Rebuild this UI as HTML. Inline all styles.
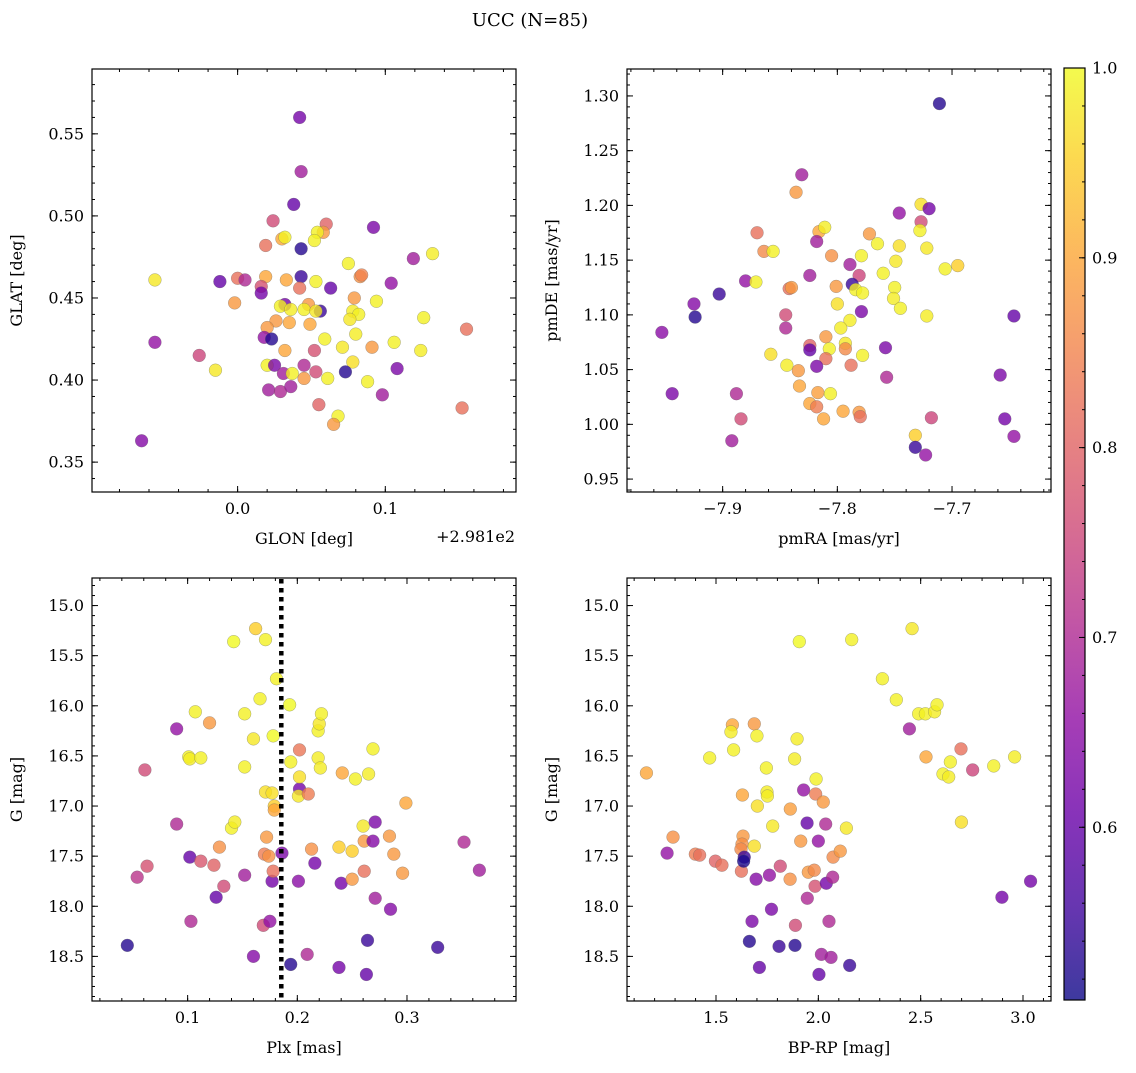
<!DOCTYPE html>
<html><head><meta charset="utf-8"><style>
body{margin:0;background:#fff}
svg text{font-family:"DejaVu Serif","Liberation Serif",serif;fill:#000}
</style></head><body>
<svg id="fig" width="1136" height="1068" viewBox="0 0 1136 1068" xmlns="http://www.w3.org/2000/svg">
<text x="530" y="26" font-size="18" text-anchor="middle">UCC (N=85)</text>
</svg>
<script>
// ---- Panel 1: GLON offset from 298.1 vs GLAT ----
const glon=[0.042,0.043,0.038,0.024,0.060,0.058,0.054,0.052,0.030,0.032,0.019,0.043,0.092,0.119,0.132,0.075,0.083,0.084,-0.056,-0.012,0.000,0.005,0.019,0.033,0.043,0.042,0.053,0.063,0.104,0.016,0.016,-0.002,0.079,0.094,0.032,0.029,0.036,0.048,0.045,0.056,0.053,0.078,0.082,0.076,0.126,0.155,0.026,0.020,0.035,0.049,0.080,0.059,0.018,0.023,-0.056,0.032,0.052,0.071,0.091,0.106,0.124,-0.026,-0.015,0.020,0.025,0.031,0.037,0.045,0.053,0.045,0.061,0.078,0.073,0.088,0.108,0.021,0.029,0.036,0.098,0.055,0.068,0.065,0.152,-0.065];
const glat=[0.560,0.527,0.507,0.497,0.495,0.490,0.490,0.485,0.486,0.487,0.482,0.480,0.493,0.474,0.477,0.471,0.463,0.464,0.461,0.460,0.462,0.461,0.463,0.461,0.463,0.456,0.460,0.456,0.459,0.457,0.453,0.447,0.450,0.448,0.446,0.445,0.443,0.446,0.443,0.442,0.442,0.442,0.440,0.437,0.438,0.431,0.436,0.432,0.435,0.434,0.428,0.425,0.426,0.425,0.423,0.418,0.418,0.420,0.420,0.423,0.418,0.415,0.406,0.409,0.409,0.404,0.404,0.409,0.405,0.401,0.401,0.411,0.405,0.399,0.407,0.394,0.393,0.396,0.391,0.385,0.378,0.373,0.383,0.363];
const prob1=[0.62,0.68,0.6,0.76,0.8,0.88,0.99,0.99,0.9,0.99,0.82,0.53,0.63,0.68,0.985,0.99,0.87,0.85,0.98,0.6,0.82,0.7,0.9,0.9,0.55,0.82,0.99,0.6,0.66,0.77,0.62,0.88,0.88,0.99,0.62,0.99,0.985,0.88,0.99,0.55,0.98,0.985,0.99,0.98,0.99,0.82,0.88,0.88,0.9,0.9,0.985,0.99,0.66,0.53,0.66,0.9,0.77,0.98,0.88,0.99,0.985,0.75,0.98,0.99,0.63,0.68,0.99,0.7,0.76,0.88,0.99,0.97,0.53,0.99,0.63,0.68,0.7,0.68,0.68,0.8,0.99,0.88,0.82,0.64];
// ---- Panel 2: pmRA vs pmDE ----
const pmra=[-7.711,-7.831,-7.836,-7.727,-7.720,-7.746,-7.727,-7.728,-7.870,-7.816,-7.811,-7.818,-7.772,-7.765,-7.746,-7.722,-7.864,-7.856,-7.805,-7.779,-7.749,-7.789,-7.706,-7.695,-7.760,-7.781,-7.824,-7.880,-7.871,-7.903,-7.925,-7.924,-7.953,-7.944,-7.787,-7.784,-7.778,-7.801,-7.842,-7.840,-7.750,-7.751,-7.745,-7.800,-7.779,-7.722,-7.646,-7.845,-7.845,-7.789,-7.797,-7.810,-7.793,-7.793,-7.824,-7.824,-7.807,-7.758,-7.778,-7.858,-7.810,-7.844,-7.818,-7.788,-7.834,-7.757,-7.658,-7.833,-7.888,-7.817,-7.806,-7.824,-7.818,-7.795,-7.781,-7.780,-7.812,-7.884,-7.718,-7.654,-7.732,-7.732,-7.723,-7.892,-7.646];
const pmde=[1.293,1.228,1.212,1.201,1.197,1.193,1.185,1.177,1.175,1.176,1.180,1.167,1.174,1.165,1.163,1.161,1.158,1.158,1.154,1.154,1.149,1.146,1.142,1.145,1.138,1.136,1.136,1.131,1.130,1.119,1.110,1.098,1.084,1.028,1.128,1.123,1.120,1.126,1.124,1.125,1.125,1.115,1.106,1.110,1.103,1.099,1.099,1.100,1.088,1.095,1.088,1.080,1.074,1.069,1.072,1.068,1.069,1.070,1.063,1.064,1.060,1.054,1.053,1.054,1.049,1.043,1.045,1.035,1.028,1.029,1.028,1.019,1.016,1.012,1.011,1.007,1.005,1.005,1.006,1.005,0.990,0.979,0.972,0.985,0.989];
const prob2=[0.53,0.68,0.88,0.97,0.62,0.66,0.76,0.99,0.82,0.9,0.985,0.68,0.88,0.99,0.97,0.98,0.86,0.99,0.87,0.99,0.98,0.68,0.99,0.95,0.99,0.75,0.68,0.66,0.99,0.55,0.64,0.53,0.65,0.63,0.55,0.99,0.99,0.88,0.82,0.88,0.99,0.985,0.99,0.97,0.63,0.985,0.6,0.76,0.7,0.985,0.985,0.88,0.98,0.86,0.8,0.6,0.99,0.63,0.99,0.97,0.82,0.985,0.63,0.82,0.88,0.7,0.63,0.9,0.7,0.89,0.99,0.9,0.84,0.9,0.88,0.82,0.9,0.76,0.75,0.62,0.95,0.55,0.66,0.68,0.66];
// ---- Panel 3: Plx vs G ----
const plx=[0.045,0.054,0.063,0.061,0.090,0.090,0.102,0.103,0.101,0.102,0.112,0.107,0.112,0.120,0.124,0.126,0.129,0.133,0.140,0.143,0.142,0.152,0.152,0.152,0.160,0.160,0.162,0.166,0.171,0.169,0.175,0.171,0.172,0.170,0.174,0.177,0.177,0.178,0.179,0.179,0.178,0.181,0.186,0.193,0.194,0.194,0.201,0.202,0.202,0.202,0.201,0.210,0.209,0.213,0.216,0.219,0.221,0.219,0.220,0.222,0.238,0.238,0.240,0.241,0.250,0.250,0.253,0.260,0.261,0.261,0.264,0.263,0.265,0.269,0.269,0.271,0.271,0.284,0.285,0.288,0.296,0.299,0.328,0.352,0.366];
const g3=[18.39,17.71,17.60,16.64,17.18,16.23,17.51,18.15,16.51,16.53,16.52,16.06,17.55,16.17,17.59,17.91,17.41,17.80,17.22,17.16,15.36,17.69,16.61,16.08,18.50,16.33,15.23,15.93,15.34,18.19,18.15,16.86,17.31,17.48,17.50,17.75,16.87,16.30,17.00,17.04,17.65,15.73,17.47,15.99,16.56,18.58,17.75,16.44,16.83,16.71,16.90,16.88,18.48,17.43,17.57,16.52,16.62,16.25,16.18,16.08,18.61,17.41,17.77,16.67,17.45,17.73,16.73,17.20,17.65,17.35,18.34,18.68,16.68,17.35,16.43,17.16,17.92,17.30,18.03,17.48,17.67,16.97,18.41,17.36,17.64];
const prob3=[0.53,0.72,0.77,0.76,0.7,0.66,0.6,0.7,0.99,0.985,0.99,0.99,0.78,0.88,0.8,0.6,0.87,0.76,0.99,0.985,1.0,0.68,0.99,0.99,0.64,0.98,0.95,0.99,0.99,0.76,0.66,0.97,0.88,0.84,0.87,0.62,0.97,1.0,0.95,0.9,0.82,0.99,0.63,1.0,0.99,0.53,0.65,0.83,0.62,0.97,0.98,0.84,0.7,0.87,0.62,0.985,0.985,0.99,0.98,0.99,0.62,0.95,0.62,0.9,0.95,0.88,0.99,0.98,0.82,0.88,0.55,0.6,0.985,0.64,0.99,0.63,0.68,0.88,0.64,0.88,0.88,0.9,0.55,0.7,0.68];
// ---- Panel 4: BP-RP vs G ----
const bprp=[1.160,1.290,1.261,1.399,1.420,1.469,1.497,1.529,1.580,1.573,1.586,1.624,1.629,1.632,1.627,1.622,1.638,1.635,1.663,1.676,1.687,1.700,1.687,1.712,1.696,1.702,1.746,1.749,1.751,1.761,1.771,1.777,1.808,1.814,1.863,1.862,1.884,1.886,1.888,1.896,1.907,1.914,1.928,1.945,1.946,1.951,1.980,1.987,1.989,1.984,2.000,2.003,2.015,2.024,2.036,2.039,2.062,2.052,2.070,2.072,2.107,2.137,2.153,2.163,2.313,2.381,2.445,2.458,2.490,2.526,2.523,2.568,2.580,2.609,2.637,2.645,2.697,2.699,2.754,2.857,2.897,2.959,3.037];
const g4=[16.67,17.31,17.47,17.48,17.49,16.52,17.55,17.59,16.19,16.26,16.44,17.65,16.89,17.30,17.38,17.43,17.51,17.55,18.35,18.15,16.18,16.30,17.40,18.61,17.73,17.00,16.62,16.86,16.90,17.69,18.03,17.20,18.40,17.60,17.03,17.73,16.53,18.39,18.19,16.33,15.36,17.35,16.84,17.17,17.92,17.66,17.64,16.88,16.73,17.80,17.35,18.68,18.48,16.96,17.18,17.77,18.51,18.15,17.71,17.51,17.45,17.22,18.59,15.34,15.73,15.94,16.23,15.23,16.08,16.51,16.08,16.06,15.99,16.68,16.71,16.56,16.43,17.16,16.64,16.60,17.91,16.51,17.75];
const prob4=[0.9,0.87,0.66,0.84,0.82,0.99,0.8,0.82,0.9,0.985,0.99,0.82,0.9,0.88,0.87,0.86,0.55,0.52,0.53,0.63,0.88,0.99,0.97,0.6,0.64,0.97,0.99,0.985,0.985,0.66,0.63,0.98,0.55,0.76,0.89,0.87,0.985,0.53,0.76,0.985,1.0,0.88,0.66,0.6,0.7,0.88,0.86,0.84,0.99,0.77,0.66,0.6,0.68,0.88,0.7,0.62,0.68,0.7,0.7,0.86,0.88,0.98,0.55,0.99,0.99,0.99,0.68,0.98,0.99,0.9,0.99,0.985,0.99,0.99,0.985,0.99,0.82,0.97,0.75,0.99,0.62,0.985,0.62];
// ---- Axis ticks ----
const xt1=[0.0,0.1], xl1=["0.0","0.1"], yt1=[0.35,0.40,0.45,0.50,0.55], yl1=["0.35","0.40","0.45","0.50","0.55"];
const xt2=[-7.9,-7.8,-7.7], xl2=["\u22127.9","\u22127.8","\u22127.7"], yt2=[0.95,1.00,1.05,1.10,1.15,1.20,1.25,1.30], yl2=["0.95","1.00","1.05","1.10","1.15","1.20","1.25","1.30"];
const xt3=[0.1,0.2,0.3], xl3=["0.1","0.2","0.3"];
const xt4=[1.5,2.0,2.5,3.0], xl4=["1.5","2.0","2.5","3.0"];
const ytG=[15.0,15.5,16.0,16.5,17.0,17.5,18.0,18.5], ylG=["15.0","15.5","16.0","16.5","17.0","17.5","18.0","18.5"];
const plxLine=0.1854;
const cbTicks=[0.6,0.7,0.8,0.9,1.0], cbLabels=["0.6","0.7","0.8","0.9","1.0"];
const VMIN=0.509, VMAX=1.0;

const NS="http://www.w3.org/2000/svg";
const svg=document.getElementById('fig');
function mk(tag,attrs,parent){const e=document.createElementNS(NS,tag);for(const k in attrs)e.setAttribute(k,attrs[k]);(parent||svg).appendChild(e);return e;}
const PL=[[13,8,135],[65,4,157],[106,0,168],[143,13,164],[177,42,144],[204,71,120],[225,100,98],[242,132,75],[252,166,54],[252,206,37],[240,249,33]];
function plasma(t){t=Math.max(0,Math.min(1,t));const f=t*10,i=Math.min(9,Math.floor(f)),u=f-i;const a=PL[i],b=PL[i+1];return `rgb(${Math.round(a[0]+(b[0]-a[0])*u)},${Math.round(a[1]+(b[1]-a[1])*u)},${Math.round(a[2]+(b[2]-a[2])*u)})`;}
const FS=16;
function panel(name,L,T,W,H,xmin,xmax,ymin,ymax,invertY,xs,ys,cs,xt,xl,yt,yl,xminor,yminor,xlab,ylab){
  const g=mk('g',{});
  
  
  const sx=v=>L+(v-xmin)/(xmax-xmin)*W;
  const sy=v=>invertY?T+(v-ymin)/(ymax-ymin)*H:T+H-(v-ymin)/(ymax-ymin)*H;
  const pts=mk('g',{},g);
  
  
  for(let i=0;i<xs.length;i++){
    const c=mk('circle',{cx:sx(xs[i]),cy:sy(ys[i]),r:6.4,fill:plasma((cs[i]-VMIN)/(VMAX-VMIN)),'fill-opacity':0.8,stroke:'#666','stroke-width':0.4,'stroke-opacity':0.7},pts);
    
    
  }
  const ax=mk('g',{},g);
  
  
  const ln=(x1,y1,x2,y2,w)=>mk('line',{x1,y1,x2,y2,stroke:'#000','stroke-width':w||1},ax);
  for(let v=Math.ceil(xmin/xminor)*xminor;v<=xmax;v+=xminor){const x=sx(v);ln(x,T+H,x,T+H-3);ln(x,T,x,T+3);}
  const lo=Math.min(ymin,ymax),hi=Math.max(ymin,ymax);
  for(let v=Math.ceil(lo/yminor)*yminor;v<=hi;v+=yminor){const y=sy(v);ln(L,y,L+3,y);ln(L+W,y,L+W-3,y);}
  xt.forEach((v,i)=>{const x=sx(v);ln(x,T+H,x,T+H-6);ln(x,T,x,T+6);const t=mk('text',{x:x,y:T+H+22,'font-size':FS,'text-anchor':'middle'},ax);t.textContent=xl[i];});
  yt.forEach((v,i)=>{const y=sy(v);ln(L,y,L+6,y);ln(L+W,y,L+W-6,y);const t=mk('text',{x:L-8,y:y+5.5,'font-size':FS,'text-anchor':'end'},ax);t.textContent=yl[i];});
  mk('rect',{x:L,y:T,width:W,height:H,fill:'none',stroke:'#000','stroke-width':1.2},ax);
  const xt_=mk('text',{x:L+W/2,y:T+H+52,'font-size':FS,'text-anchor':'middle'},ax);xt_.textContent=xlab;
  
  
  const yx=L-70, yy=T+H/2;
  const yt_=mk('text',{x:yx,y:yy,'font-size':FS,'text-anchor':'middle',transform:`rotate(-90 ${yx} ${yy})`},ax);yt_.textContent=ylab;
  
  
  return {sx,sy};
}
panel('glon-glat',92,69,424,423,-0.0986,0.1885,0.3318,0.5895,false,glon,glat,prob1,xt1,xl1,yt1,yl1,0.02,0.01,'GLON [deg]','GLAT [deg]');
const off=mk('text',{x:515,y:542,'font-size':FS,'text-anchor':'end'});off.textContent='+2.981e2';


panel('pm',627,69,424,423,-7.9834,-7.6137,0.9382,1.3246,false,pmra,pmde,prob2,xt2,xl2,yt2,yl2,0.02,0.01,'pmRA [mas/yr]','pmDE [mas/yr]');
const p3=panel('plx-g',92,578,424,423,0.0128,0.3994,14.725,18.945,true,plx,g3,prob3,xt3,xl3,ytG,ylG,0.02,0.1,'Plx [mas]','G [mag]');
const dl=mk('line',{x1:p3.sx(plxLine),y1:579,x2:p3.sx(plxLine),y2:1000,stroke:'#000','stroke-width':4.5,'stroke-dasharray':'4.5,4.5'});


panel('cmd',627,578,424,423,1.0651,3.1368,14.725,18.945,true,bprp,g4,prob4,xt4,xl4,ytG,ylG,0.1,0.1,'BP-RP [mag]','G [mag]');
// colorbar
const cb=mk('g',{});


const defs=mk('defs',{},cb);
const grad=mk('linearGradient',{id:'pg',x1:0,y1:1,x2:0,y2:0},defs);
for(let i=0;i<=20;i++){mk('stop',{offset:i/20,'stop-color':plasma(i/20)},grad);}
const CT=68,CB=1000,CL=1064,CW=21;
mk('rect',{x:CL,y:CT,width:CW,height:CB-CT,fill:'url(#pg)','fill-opacity':0.8},cb);
mk('rect',{x:CL,y:CT,width:CW,height:CB-CT,fill:'none',stroke:'#000','stroke-width':1.2},cb);
const cy=v=>CB-(v-VMIN)/(VMAX-VMIN)*(CB-CT);
for(let v=0.52;v<=1.0001;v+=0.02){mk('line',{x1:CL+CW,y1:cy(v),x2:CL+CW-3,y2:cy(v),stroke:'#000','stroke-width':1},cb);}
cbTicks.forEach((v,i)=>{mk('line',{x1:CL+CW,y1:cy(v),x2:CL+CW-6,y2:cy(v),stroke:'#000','stroke-width':1},cb);const t=mk('text',{x:CL+CW+7,y:cy(v)+5.5,'font-size':FS},cb);t.textContent=cbLabels[i];});
</script>
</body></html>
